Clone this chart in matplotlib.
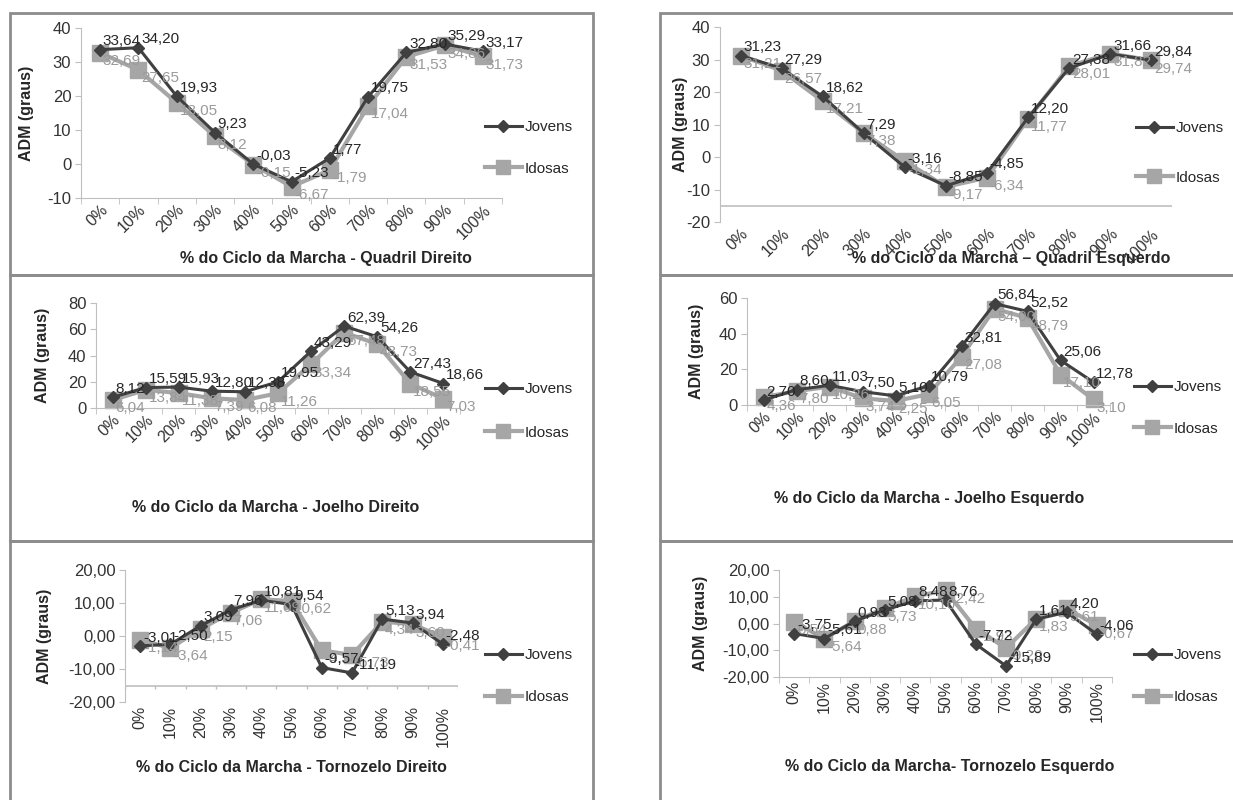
import matplotlib
matplotlib.use("Agg")
import matplotlib.pyplot as plt
from matplotlib.patches import Rectangle
from matplotlib.lines import Line2D

plt.rcParams['font.family'] = ['Liberation Sans', 'DejaVu Sans']

# Dados (ADM em graus) por % do ciclo da marcha
fases = ['0%', '10%', '20%', '30%', '40%', '50%', '60%', '70%', '80%', '90%', '100%']

quadril_dir_jovens = [33.64, 34.20, 19.93, 9.23, -0.03, -5.23, 1.77, 19.75, 32.80, 35.29, 33.17]
quadril_dir_idosas = [32.69, 27.65, 18.05, 8.12, -0.15, -6.67, -1.79, 17.04, 31.53, 34.86, 31.73]

quadril_esq_jovens = [31.23, 27.29, 18.62, 7.29, -3.16, -8.85, -4.85, 12.20, 27.38, 31.66, 29.84]
quadril_esq_idosas = [31.21, 26.57, 17.21, 7.38, -1.34, -9.17, -6.34, 11.77, 28.01, 31.82, 29.74]

joelho_dir_jovens = [8.12, 15.59, 15.93, 12.80, 12.38, 19.95, 43.29, 62.39, 54.26, 27.43, 18.66]
joelho_dir_idosas = [6.04, 13.84, 11.38, 7.39, 6.08, 11.26, 33.34, 57.48, 48.73, 18.55, 7.03]

joelho_esq_jovens = [2.70, 8.60, 11.03, 7.50, 5.10, 10.79, 32.81, 56.84, 52.52, 25.06, 12.78]
joelho_esq_idosas = [4.36, 7.80, 10.26, 3.74, 2.25, 6.05, 27.08, 54.00, 48.79, 17.10, 3.10]

tornoz_dir_jovens = [-3.01, -2.50, 3.09, 7.96, 10.81, 9.54, -9.57, -11.19, 5.13, 3.94, -2.48]
tornoz_dir_idosas = [-1.14, -3.64, 2.15, 7.06, 11.09, 10.62, -4.38, -5.73, 4.34, 3.60, -0.41]

tornoz_esq_jovens = [-3.75, -5.61, 0.93, 5.08, 8.48, 8.76, -7.72, -15.89, 1.61, 4.20, -4.06]
tornoz_esq_idosas = [0.54, -5.64, 0.88, 5.73, 10.10, 12.42, -1.93, -9.20, 1.83, 5.61, -0.67]

W, H = 1233, 800
fig = plt.figure(figsize=(W / 100, H / 100), dpi=100)
fig.patch.set_facecolor('white')

cor_jov = '#404040'
cor_ido = '#a6a6a6'
cor_eixo = '#bfbfbf'


def virgula(v, casas=2):
    return f'{v:.{casas}f}'.replace('.', ',')


def painel(x0, x1, ytop, ybot, jov, ido, ylim, passo, xlabel, xlab_pos, ylab_x,
           leg_x, leg_y, leg_esp, rot=45, eixo_em=None, dec=0):
    ax = fig.add_axes([x0 / W, 1 - ybot / H, (x1 - x0) / W, (ybot - ytop) / H])
    x = list(range(len(fases)))
    ax.plot(x, ido, color=cor_ido, lw=3, marker='s', ms=11, zorder=2, clip_on=False)
    ax.plot(x, jov, color=cor_jov, lw=2.2, marker='D', ms=6, zorder=3, clip_on=False)
    for i in x:
        ax.annotate(virgula(jov[i]), (i, jov[i]), xytext=(2, 1), textcoords='offset points',
                    ha='left', va='bottom', fontsize=11, color='#262626', zorder=5)
        ax.annotate(virgula(ido[i]), (i, ido[i]), xytext=(2, -1), textcoords='offset points',
                    ha='left', va='top', fontsize=11, color='#9a9a9a', zorder=4)
    ax.set_xlim(-0.5, len(fases) - 0.5)
    ax.set_ylim(*ylim)
    for s in ['top', 'right']:
        ax.spines[s].set_visible(False)
    ax.spines['left'].set_color(cor_eixo)
    ax.spines['bottom'].set_color(cor_eixo)
    yt = list(range(int(ylim[0]), int(ylim[1]) + 1, passo))
    ax.set_yticks(yt)
    ax.set_yticklabels([virgula(v, dec) if dec else str(v) for v in yt], fontsize=12, color='#333333')
    ax.set_xticks(x)
    if rot == 90:
        ax.set_xticklabels(fases, rotation=90, fontsize=11.5, color='#333333')
    else:
        ax.set_xticklabels(fases, rotation=45, ha='right', rotation_mode='anchor', fontsize=11.5,
                           color='#333333')
    fronteiras = [i - 0.5 for i in range(len(fases) + 1)]
    ax.tick_params(axis='x', which='major', length=0, pad=3)
    ax.tick_params(axis='y', length=4, color=cor_eixo, pad=3)
    if eixo_em is None:
        ax.set_xticks(fronteiras, minor=True)
        ax.tick_params(axis='x', which='minor', length=4, color=cor_eixo)
    else:
        ax.spines['bottom'].set_visible(False)
        ax.axhline(eixo_em, color=cor_eixo, lw=1.2, zorder=1)
        if rot == 90:
            ax.vlines(fronteiras, eixo_em - 1.2, eixo_em, color=cor_eixo, lw=1)
    ax.set_facecolor('none')
    fig.text(xlab_pos[0] / W, 1 - xlab_pos[1] / H, xlabel, ha='center', va='center',
             fontsize=11.5, fontweight='bold', color='#262626')
    fig.text(ylab_x / W, 1 - (ytop + ybot) / 2 / H, 'ADM (graus)', rotation=90,
             ha='center', va='center', fontsize=11.5, fontweight='bold', color='#262626')
    handles = [Line2D([], [], color=cor_jov, lw=2.2, marker='D', ms=6),
               Line2D([], [], color=cor_ido, lw=3, marker='s', ms=10)]
    fig.legend(handles, ['Jovens', 'Idosas'], loc='center left',
               bbox_to_anchor=(leg_x / W, 1 - leg_y / H), frameon=False,
               fontsize=11, handlelength=2.4, labelspacing=leg_esp, handletextpad=0.2,
               borderpad=0, borderaxespad=0, labelcolor='#262626')
    return ax


painel(81, 502, 28, 198, quadril_dir_jovens, quadril_dir_idosas, (-10, 40), 10,
       '% do Ciclo da Marcha - Quadril Direito', (326, 258), 27, 485, 148, 1.8)
painel(720, 1172, 27, 222, quadril_esq_jovens, quadril_esq_idosas, (-20, 40), 10,
       '% do Ciclo da Marcha \u2013 Quadril Esquerdo', (1011, 259), 680, 1136, 153, 2.3,
       eixo_em=-15)
painel(96, 460, 303, 408, joelho_dir_jovens, joelho_dir_idosas, (0, 80), 20,
       '% do Ciclo da Marcha - Joelho Direito', (276, 507), 43, 485, 411, 1.9)
painel(747, 1110, 298, 405, joelho_esq_jovens, joelho_esq_idosas, (0, 60), 20,
       '% do Ciclo da Marcha - Joelho Esquerdo', (929, 498), 697, 1134, 408, 1.8)
painel(125, 458, 570, 702, tornoz_dir_jovens, tornoz_dir_idosas, (-20, 20), 10,
       '% do Ciclo da Marcha - Tornozelo Direito', (291, 767), 45, 485, 676, 1.85, rot=90,
       eixo_em=-15, dec=2)
painel(779, 1112, 570, 677, tornoz_esq_jovens, tornoz_esq_idosas, (-20, 20), 10,
       '% do Ciclo da Marcha- Tornozelo Esquerdo', (950, 767), 701, 1134, 676, 1.85, rot=90, dec=2)

# molduras dos painéis
for (x0, x1) in [(10, 593), (660, 1240)]:
    for (y0, y1) in [(13, 275), (275, 541), (541, 805)]:
        fig.add_artist(Rectangle((x0 / W, 1 - y1 / H), (x1 - x0) / W, (y1 - y0) / H,
                                 transform=fig.transFigure, fill=False,
                                 edgecolor='#8c8c8c', lw=2, zorder=0))

fig.savefig('out.png', dpi=100)
